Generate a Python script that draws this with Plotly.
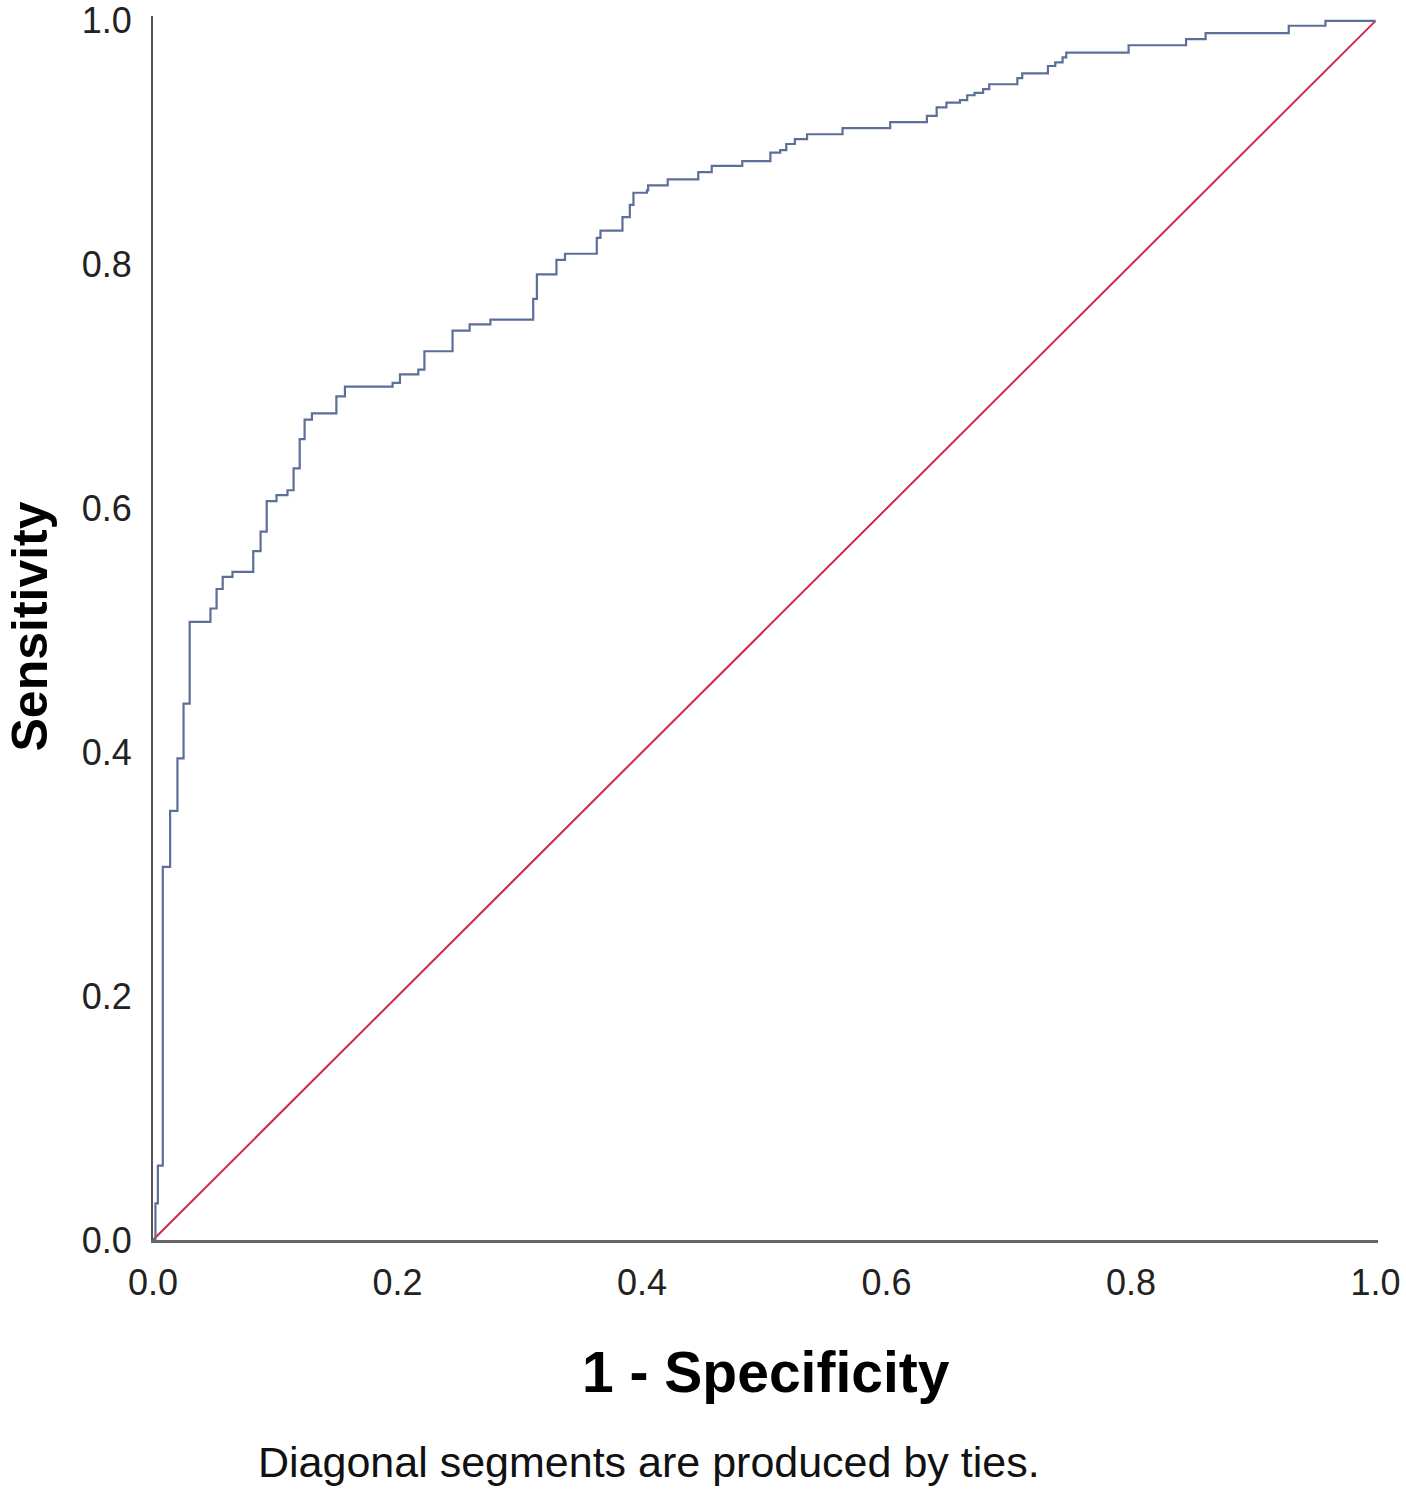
import plotly.graph_objects as go

# ROC curve (1 - specificity, sensitivity), step corners
fpr = [0.0, 0.002, 0.004, 0.008, 0.014, 0.020, 0.025, 0.030, 0.047, 0.052,
       0.057, 0.065, 0.082, 0.088, 0.093, 0.101, 0.110, 0.115, 0.120, 0.124,
       0.130, 0.150, 0.157, 0.196, 0.202, 0.217, 0.222, 0.245, 0.259, 0.276,
       0.311, 0.314, 0.330, 0.337, 0.363, 0.366, 0.384, 0.390, 0.393, 0.404,
       0.405, 0.421, 0.446, 0.457, 0.482, 0.505, 0.513, 0.518, 0.525, 0.535,
       0.564, 0.603, 0.633, 0.641, 0.649, 0.660, 0.666, 0.672, 0.679, 0.684,
       0.707, 0.711, 0.732, 0.738, 0.744, 0.747, 0.798, 0.845, 0.861, 0.929,
       0.959, 1.0]
tpr = [0.0, 0.030, 0.061, 0.306, 0.352, 0.395, 0.440, 0.507, 0.518, 0.534,
       0.544, 0.548, 0.565, 0.581, 0.606, 0.611, 0.615, 0.633, 0.657, 0.673,
       0.678, 0.692, 0.700, 0.703, 0.710, 0.714, 0.729, 0.746, 0.751, 0.755,
       0.772, 0.792, 0.804, 0.809, 0.822, 0.828, 0.839, 0.849, 0.859, 0.861,
       0.865, 0.870, 0.876, 0.881, 0.885, 0.892, 0.894, 0.899, 0.903, 0.907,
       0.912, 0.917, 0.922, 0.929, 0.933, 0.935, 0.939, 0.941, 0.944, 0.948,
       0.953, 0.957, 0.963, 0.966, 0.970, 0.974, 0.980, 0.985, 0.990, 0.996,
       1.0, 1.0]

ref_x = [0.0, 1.0]
ref_y = [0.0, 1.0]

tick_vals = [0.0, 0.2, 0.4, 0.6, 0.8, 1.0]

fig = go.Figure()
fig.add_trace(go.Scatter(x=ref_x, y=ref_y, mode="lines",
                         line=dict(color="#d02848", width=2), showlegend=False))
fig.add_trace(go.Scatter(x=fpr, y=tpr, mode="lines", line_shape="hv",
                         line=dict(color="#5b6f99", width=2.2), showlegend=False))

axis_font = dict(family="Liberation Sans, Arial, sans-serif", size=36, color="#222222")

fig.update_layout(
    width=1406, height=1495,
    margin=dict(l=153, r=28, t=16, b=255),
    plot_bgcolor="white", paper_bgcolor="white",
    xaxis=dict(range=[0, 1.002], tickvals=tick_vals, tickformat=".1f",
               showgrid=False, zeroline=False, showline=True,
               linecolor="#666666", linewidth=2.5, ticks="",
               tickfont=axis_font, ticklabelstandoff=9,
               ticklabeloverflow="allow", automargin=False),
    yaxis=dict(range=[0, 1.004], tickvals=tick_vals, tickformat=".1f",
               showgrid=False, zeroline=False, showline=True,
               linecolor="#555555", linewidth=2, ticks="",
               tickfont=axis_font, ticklabelstandoff=12,
               ticklabeloverflow="allow", automargin=False),
    annotations=[
        dict(text="<b>1 - Specificity</b>", xref="paper", yref="paper",
             x=0.5, y=-0.1077, xanchor="center", yanchor="middle",
             showarrow=False,
             font=dict(family="Liberation Sans, Arial, sans-serif", size=57, color="#000000")),
        dict(text="<b>Sensitivity</b>", xref="paper", yref="paper",
             x=-0.1, y=0.5008, xanchor="center", yanchor="middle",
             textangle=-90, showarrow=False,
             font=dict(family="Liberation Sans, Arial, sans-serif", size=50, color="#000000")),
        dict(text="Diagonal segments are produced by ties.", xref="paper", yref="paper",
             x=0.405, y=-0.181, xanchor="center", yanchor="middle",
             showarrow=False,
             font=dict(family="Liberation Sans, Arial, sans-serif",
                       size=43, color="#111111")),
    ],
)

# drop the page's default body margin so the figure sits at the window corner
fig.write_html("out.html", config={"displayModeBar": False},
               post_script="document.body.style.margin='0';")
